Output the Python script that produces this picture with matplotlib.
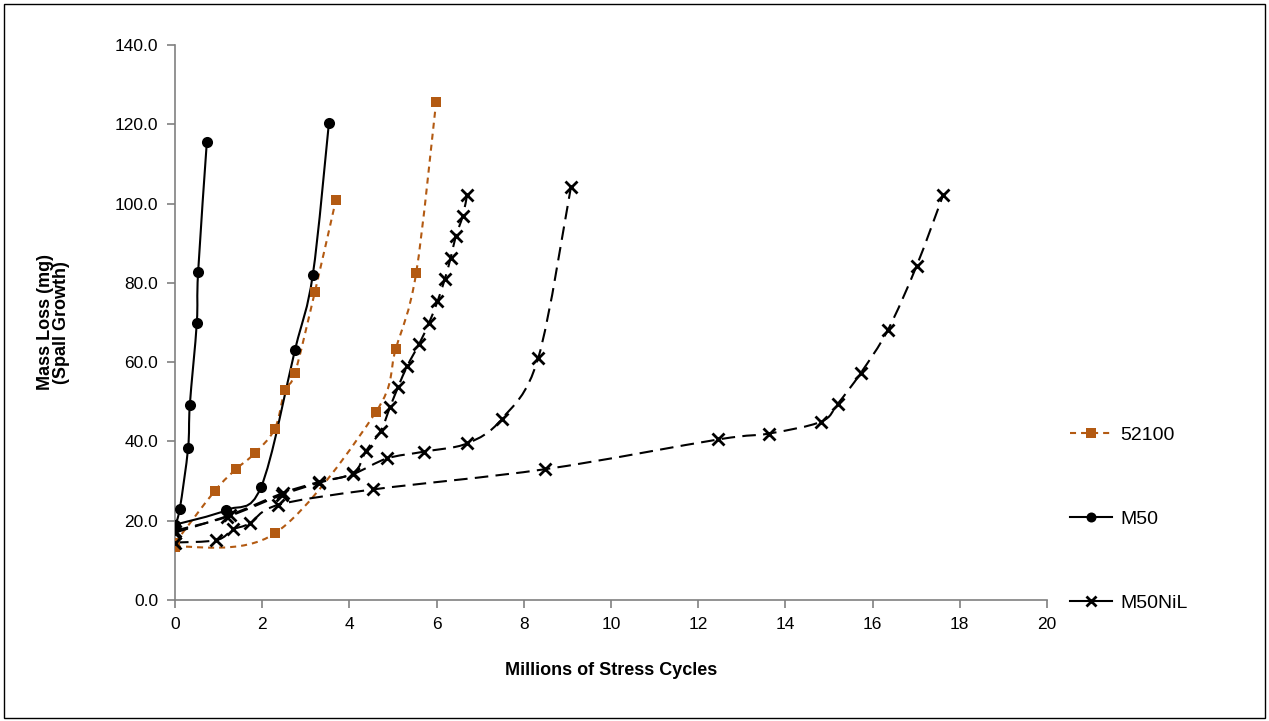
import numpy as np
import matplotlib
matplotlib.use('Agg')
from matplotlib import pyplot as plt
from matplotlib.path import Path
from matplotlib.patches import PathPatch, Rectangle
from matplotlib.lines import Line2D

plt.rcParams['font.family'] = ['Liberation Sans', 'DejaVu Sans']

# 52100 tests
s1_x = [0, 0.92, 1.40, 1.83, 2.29, 2.52, 2.75, 3.21, 3.69]
s1_y = [14.4, 27.6, 33.0, 37.0, 43.2, 53.0, 57.2, 77.8, 100.9]
s2_x = [0, 2.29, 4.60, 5.06, 5.53, 5.99]
s2_y = [13.4, 16.8, 47.3, 63.2, 82.4, 125.7]

# M50 tests
m1_x = [0, 0.11, 0.30, 0.34, 0.50, 0.53, 0.73]
m1_y = [19.0, 23.0, 38.3, 49.2, 69.9, 82.7, 115.5]
m2_x = [0, 1.18, 1.97, 2.75, 3.16, 3.53]
m2_y = [19.0, 22.7, 28.4, 63.0, 82.0, 120.3]

# M50NiL tests
na_x = [0, 1.25, 2.48, 3.31, 4.09, 4.38, 4.72, 4.93, 5.12, 5.33, 5.60, 5.83,
        6.02, 6.19, 6.32, 6.44, 6.60, 6.70]
na_y = [17.0, 21.4, 27.0, 29.8, 32.0, 37.6, 42.7, 48.6, 53.8, 59.1, 64.6, 70.0,
        75.3, 81.0, 86.2, 91.7, 96.9, 102.2]
nb_x = [0, 1.20, 2.45, 3.31, 4.09, 4.86, 5.70, 6.70, 7.49, 8.33, 9.08]
nb_y = [17.5, 21.0, 26.5, 29.6, 31.8, 35.7, 37.4, 39.5, 45.6, 61.0, 104.1]
nc_x = [0, 0.95, 1.33, 1.71, 2.37, 4.55, 8.49, 12.46, 13.63, 14.82, 15.20,
        15.73, 16.35, 17.01, 17.62]
nc_y = [14.5, 15.1, 17.8, 19.3, 24.0, 27.9, 33.0, 40.5, 42.0, 45.0, 49.5,
        57.3, 68.1, 84.3, 102.2]

orange = '#B35A12'


def smooth_path(xs, ys):
    # excel-like smoothed line (catmull-rom as bezier)
    pts = np.column_stack([xs, ys]).astype(float)
    verts = [pts[0]]
    codes = [Path.MOVETO]
    for i in range(len(pts) - 1):
        p0 = pts[i - 1] if i > 0 else pts[i]
        p1 = pts[i]
        p2 = pts[i + 1]
        p3 = pts[i + 2] if i + 2 < len(pts) else pts[i + 1]
        verts += [p1 + (p2 - p0) / 6, p2 - (p3 - p1) / 6, p2]
        codes += [Path.CURVE4] * 3
    return Path(verts, codes)


fig = plt.figure(figsize=(12.69, 7.21), dpi=100)
ax = fig.add_axes([175 / 1269, 1 - 600 / 721, 872 / 1269, 555 / 721])

styles = {
    '52100': dict(color=orange, ls=(0, (2.9, 2.4)), marker='s', ms=7.5, mew=0),
    'M50': dict(color='black', ls='-', marker='o', ms=8, mew=0),
    'M50NiL': dict(color='black', ls=(0, (6.5, 3.5)), marker='x', ms=8, mew=2),
}
series = [('52100', s1_x, s1_y), ('52100', s2_x, s2_y),
          ('M50', m1_x, m1_y), ('M50', m2_x, m2_y),
          ('M50NiL', na_x, na_y), ('M50NiL', nb_x, nb_y), ('M50NiL', nc_x, nc_y)]

for name, xs, ys in series:
    st = styles[name]
    ax.add_patch(PathPatch(smooth_path(xs, ys), fill=False, edgecolor=st['color'],
                           linewidth=1.5, linestyle=st['ls'], zorder=2))
    ax.plot(xs, ys, ls='none', marker=st['marker'], ms=st['ms'], color=st['color'],
            mew=st['mew'], zorder=3)

ax.set_xlim(0, 20)
ax.set_ylim(0, 140)
ax.set_xticks(np.arange(0, 21, 2))
ax.set_yticks(np.arange(0, 141, 20))
ax.set_yticklabels(['%.1f' % v for v in np.arange(0, 141, 20)])
for s in ['top', 'right']:
    ax.spines[s].set_visible(False)
for s in ['left', 'bottom']:
    ax.spines[s].set_color('#808080')
    ax.spines[s].set_linewidth(1.2)
ax.tick_params(axis='both', colors='#808080', length=6, width=1.2, direction='out',
               labelcolor='black', labelsize=12.5, pad=6)
for lab in ax.get_xticklabels():
    lab.set_family(['Liberation Sans Narrow', 'Liberation Sans'])

ax.set_xlabel('Millions of Stress Cycles', fontsize=13, fontweight='bold', labelpad=22)
ax.set_ylabel('Mass Loss (mg)\n(Spall Growth)', fontsize=13, fontweight='bold',
              labelpad=32, linespacing=0.95)

handles = []
for name in ['52100', 'M50', 'M50NiL']:
    st = styles[name]
    handles.append(Line2D([], [], color=st['color'], ls=st['ls'] if name == '52100' else '-',
                          lw=1.5, marker=st['marker'], ms=st['ms'] * 0.9, mew=st['mew']))
fig.legend(handles, ['52100', 'M50', 'M50NiL'], loc='upper left',
           bbox_to_anchor=(1052 / 1269, 1 - 409 / 721), frameon=False, fontsize=14,
           labelspacing=3.4, handlelength=2.2, handletextpad=0.4)

fig.patches.append(Rectangle((0.003, 0.004), 0.994, 0.991, transform=fig.transFigure,
                             fill=False, edgecolor='black', linewidth=1))

fig.savefig('out.png', dpi=100)
